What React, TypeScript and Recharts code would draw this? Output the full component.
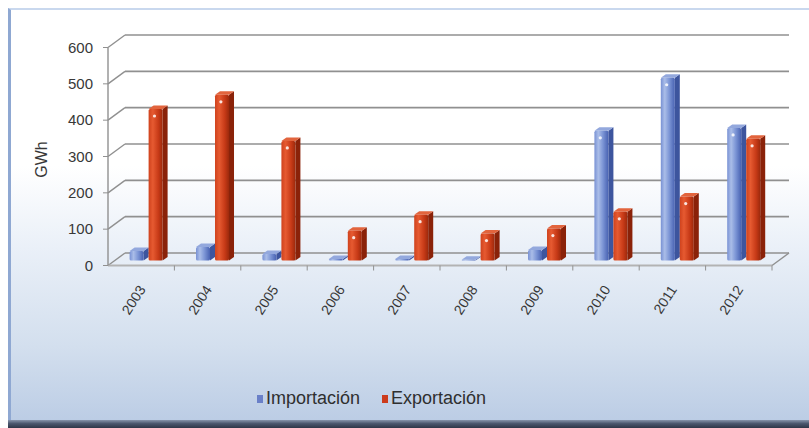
import { Bar, BarChart, CartesianGrid, Legend, XAxis, YAxis } from "recharts";

// Yearly electricity trade (GWh), drawn as an oblique "3D" column chart:
// the Recharts plot area is the front plane, gridlines are pushed back by
// the wall depth and columns sit half way in.

const years = ["2003", "2004", "2005", "2006", "2007", "2008", "2009", "2010", "2011", "2012"];
const importacion = [26, 37, 18, 4, 4, 2, 29, 357, 503, 365];
const exportacion = [417, 456, 329, 82, 126, 74, 88, 134, 176, 335];
const yTicks = [0, 100, 200, 300, 400, 500, 600];
const seriesNames = ["Importación", "Exportación"];

const rows = years.map((year, i) => ({
  year,
  importacion: importacion[i],
  exportacion: exportacion[i],
}));

const CHART_W = 809;
const CHART_H = 428;
const MARGIN = { top: 47.5, right: 37, bottom: 102.5, left: 20 };
const Y_AXIS_W = 88;
const X_AXIS_H = 60;
const PLOT_LEFT = MARGIN.left + Y_AXIS_W;
const PLOT_W = CHART_W - PLOT_LEFT - MARGIN.right;
const PLOT_BOTTOM = CHART_H - MARGIN.bottom - X_AXIS_H;
const BAND = PLOT_W / years.length;

// wall depth and column placement inside it
const WALL_DX = 17;
const WALL_DY = -12.5;
const COL_DX = 7;
const COL_DY = -5;
const COL_DEPTH_X = 5;
const COL_DEPTH_Y = -3.5;

const GRID = "#909090";
const TEXT = "#383838";
const FONT = '"Liberation Sans", Arial, sans-serif';

const palette = {
  imp: { legend: "#6a80c8", side: "#3d559e", top: "#93a8dd", grad: "impFront" },
  exp: { legend: "#cc3b1c", side: "#8a2209", top: "#e2643d", grad: "expFront" },
};

function GridLine(props: any) {
  const { x1, y1, x2, y2 } = props;
  const floor = Math.abs(y1 - PLOT_BOTTOM) < 1;
  return (
    <g>
      <line x1={x1} y1={y1} x2={x1 + WALL_DX} y2={y1 + WALL_DY} stroke={GRID} strokeWidth={1.4} />
      <line
        x1={x1 + WALL_DX}
        y1={y1 + WALL_DY}
        x2={x2 + WALL_DX}
        y2={y2 + WALL_DY}
        stroke={GRID}
        strokeWidth={1.7}
      />
      {floor && (
        <line x1={x2} y1={y2} x2={x2 + WALL_DX} y2={y2 + WALL_DY} stroke={GRID} strokeWidth={1.4} />
      )}
    </g>
  );
}

function Column(props: any) {
  const { x, y, width, height, kind } = props;
  const c = palette[kind as "imp" | "exp"];
  if (!height || height < 0) return null;
  const fx = x + COL_DX;
  const fy = y + COL_DY;
  const fw = width - COL_DEPTH_X;
  const fh = height;
  const top = `${fx},${fy} ${fx + fw},${fy} ${fx + fw + COL_DEPTH_X},${fy + COL_DEPTH_Y} ${fx + COL_DEPTH_X},${fy + COL_DEPTH_Y}`;
  const side = `${fx + fw},${fy} ${fx + fw + COL_DEPTH_X},${fy + COL_DEPTH_Y} ${fx + fw + COL_DEPTH_X},${fy + fh + COL_DEPTH_Y} ${fx + fw},${fy + fh}`;
  return (
    <g>
      <polygon points={side} fill={c.side} />
      <polygon points={top} fill={c.top} />
      <rect x={fx} y={fy} width={fw} height={fh} rx={1.5} fill={`url(#${c.grad})`} />
      {fh > 14 && <circle cx={fx + fw * 0.42} cy={fy + 7} r={1.6} fill="#ffffff" opacity={0.85} />}
    </g>
  );
}

function YearTick(props: any) {
  const { x, payload, index } = props;
  const ty = PLOT_BOTTOM + 24;
  const tx = x + 5;
  return (
    <g>
      {index > 0 && (
        <line x1={x - BAND / 2} y1={PLOT_BOTTOM} x2={x - BAND / 2} y2={PLOT_BOTTOM + 5} stroke={GRID} />
      )}
      {index === years.length - 1 && (
        <line x1={x + BAND / 2} y1={PLOT_BOTTOM} x2={x + BAND / 2} y2={PLOT_BOTTOM + 5} stroke={GRID} />
      )}
      <text
        x={tx}
        y={ty}
        transform={`rotate(-57 ${tx} ${ty})`}
        textAnchor="end"
        fontSize={14}
        fontFamily={FONT}
        fill={TEXT}
      >
        {payload.value}
      </text>
    </g>
  );
}

function GwhLabel(props: any) {
  const { viewBox } = props;
  const cx = viewBox.x + 21;
  const cy = PLOT_BOTTOM - (PLOT_BOTTOM - MARGIN.top) / 2 + 3;
  return (
    <text
      x={cx}
      y={cy}
      transform={`rotate(-90 ${cx} ${cy})`}
      textAnchor="middle"
      dominantBaseline="central"
      fontSize={16}
      fontFamily={FONT}
      fill={TEXT}
    >
      GWh
    </text>
  );
}

function LegendBox(props: any) {
  const items = [...(props.payload ?? [])].sort(
    (a: any, b: any) => seriesNames.indexOf(a.value) - seriesNames.indexOf(b.value),
  );
  return (
    <div style={{ display: "flex", gap: 22, fontFamily: FONT, fontSize: 18, color: "#2f2f2f" }}>
      {items.map((it: any) => (
        <div key={it.value} style={{ display: "flex", alignItems: "center", gap: 3 }}>
          <span style={{ width: 6, height: 8, background: it.color, display: "inline-block" }} />
          <span>{it.value}</span>
        </div>
      ))}
    </div>
  );
}

export default function App() {
  return (
    <div style={{ position: "absolute", left: 0, top: 0, width: CHART_W, height: CHART_H, background: "#ffffff" }}>
      <div
        style={{
          position: "absolute",
          left: 8,
          top: 8,
          width: CHART_W - 8 - 3,
          height: 412 - 2,
          borderLeft: "3px solid #8fa8d2",
          borderTop: "2px solid #c9d8ee",
          background: "linear-gradient(to bottom, #ffffff 0%, #ffffff 38%, #eaf0f8 58%, #d3dfee 82%, #bccde5 100%)",
        }}
      />
      <div
        style={{
          position: "absolute",
          left: 8,
          top: 420,
          width: CHART_W - 8,
          height: 8,
          background: "linear-gradient(to bottom, #8794ab 0%, #4a566d 45%, #2e3648 100%)",
        }}
      />
      <div style={{ position: "absolute", left: 0, top: 0 }}>
        <BarChart
          width={CHART_W}
          height={CHART_H}
          data={rows}
          margin={MARGIN}
          barCategoryGap="22%"
          barGap={0}
        >
          <defs>
            <linearGradient id="impFront" x1="0" y1="0" x2="1" y2="0">
              <stop offset="0%" stopColor="#7891d4" />
              <stop offset="28%" stopColor="#aabde8" />
              <stop offset="60%" stopColor="#7d96d6" />
              <stop offset="100%" stopColor="#4862b2" />
            </linearGradient>
            <linearGradient id="expFront" x1="0" y1="0" x2="1" y2="0">
              <stop offset="0%" stopColor="#cf421d" />
              <stop offset="30%" stopColor="#e65a31" />
              <stop offset="70%" stopColor="#c73a17" />
              <stop offset="100%" stopColor="#9c290c" />
            </linearGradient>
          </defs>
          <CartesianGrid vertical={false} horizontal={(p: any) => <GridLine {...p} />} />
          <XAxis
            dataKey="year"
            height={X_AXIS_H}
            interval={0}
            tickLine={false}
            tickSize={0}
            axisLine={{ stroke: "#b3b3b3", strokeWidth: 2 }}
            tick={(p: any) => <YearTick {...p} />}
          />
          <YAxis
            width={Y_AXIS_W}
            domain={[0, 600]}
            ticks={yTicks}
            tickSize={5}
            tickMargin={10}
            axisLine={{ stroke: GRID, strokeWidth: 1.4 }}
            tickLine={{ stroke: GRID }}
            tick={{ fontSize: 15, fontFamily: FONT, fill: TEXT }}
            label={{ content: (p: any) => <GwhLabel {...p} /> }}
          />
          <Legend
            layout="horizontal"
            verticalAlign="middle"
            align="center"
            itemSorter={(item: any) => seriesNames.indexOf(item.value)}
            wrapperStyle={{ top: 388, left: 257, width: 300, height: 24 }}
            content={(p: any) => <LegendBox {...p} />}
          />
          <Bar
            dataKey="importacion"
            name={seriesNames[0]}
            fill={palette.imp.legend}
            isAnimationActive={false}
            shape={(p: any) => <Column {...p} kind="imp" />}
          />
          <Bar
            dataKey="exportacion"
            name={seriesNames[1]}
            fill={palette.exp.legend}
            isAnimationActive={false}
            shape={(p: any) => <Column {...p} kind="exp" />}
          />
        </BarChart>
      </div>
    </div>
  );
}
